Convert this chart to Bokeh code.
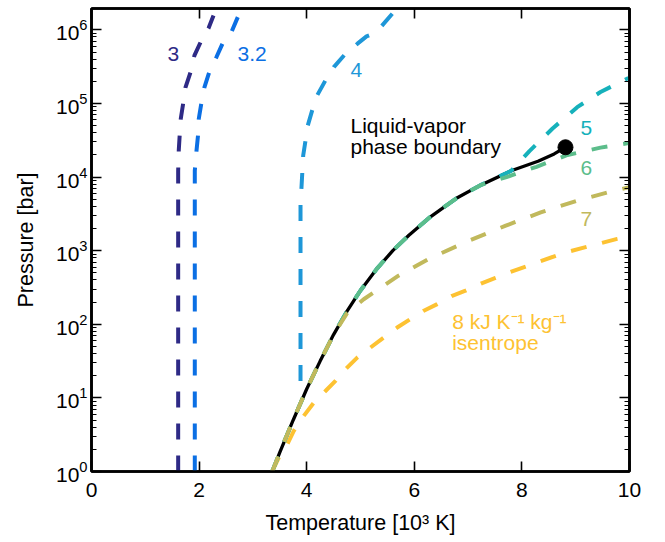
from bokeh.plotting import figure
from bokeh.models import LinearAxis, LogAxis, FixedTicker, Range1d, CustomJSTickFormatter
from bokeh.core.properties import value
from bokeh.embed import file_html
from bokeh.resources import INLINE

FONT = "Liberation Sans"

# ---- data (temperature in 10^3 K, pressure in bar) ----
x_ticks = [0, 2, 4, 6, 8, 10]
y_ticks = [1, 10, 100, 1e3, 1e4, 1e5, 1e6]
y_minor = [m * 10 ** k for k in range(0, 7) for m in range(2, 10)]

# liquid-vapor phase boundary
T_b = [3.359, 3.5, 3.75, 4.0, 4.25, 4.5, 4.75, 5.0, 5.31, 5.6, 5.9, 6.3, 6.8, 7.23, 7.8, 8.3, 8.6, 8.81]
P_b = [1, 1.82, 5.01, 13.2, 31.6, 72.4, 151, 288, 575, 1000, 1622, 2884, 5248, 7760, 12160, 16400, 20650, 25400]
T_crit = [8.81]
P_crit = [25400]

# isentropes (kJ K^-1 kg^-1)
T_s3 = [1.611, 1.611, 1.622, 1.641, 1.660, 1.704, 1.747, 1.840, 1.914, 2.026, 2.175, 2.268]
P_s3 = [1, 1.22e4, 2.30e4, 3.91e4, 6.25e4, 1.0e5, 1.65e5, 2.64e5, 4.50e5, 6.76e5, 1.05e6, 1.57e6]

T_s32 = [1.920, 1.920, 1.952, 1.983, 1.994, 2.045, 2.100, 2.199, 2.323, 2.448, 2.602, 2.719]
P_s32 = [1, 1.22e4, 2.30e4, 3.87e4, 6.19e4, 1.04e5, 1.67e5, 2.81e5, 4.27e5, 6.82e5, 9.33e5, 1.49e6]

T_s4 = [3.885, 3.885, 3.903, 3.935, 3.978, 4.020, 4.102, 4.195, 4.349, 4.504, 4.721, 4.944, 5.112, 5.186, 5.390, 5.595]
P_s4 = [17, 4.79e3, 7.19e3, 1.96e4, 3.14e4, 5.02e4, 8.04e4, 1.29e5, 2.06e5, 3.12e5, 4.74e5, 6.49e5, 8.15e5, 8.55e5, 1.12e6, 1.67e6]

T_s5 = [3.359, 3.5, 3.75, 4.0, 4.25, 4.5, 4.75, 5.0, 5.31, 5.6, 5.9, 6.3, 6.8, 7.23, 7.8, 8.14, 8.57, 9.028, 9.461, 9.981]
P_s5 = [1, 1.82, 5.01, 13.2, 31.6, 72.4, 151, 288, 575, 1000, 1622, 2884, 5248, 7760, 12160, 2.25e4, 4.57e4, 8.91e4, 1.43e5, 2.22e5]

T_s6 = [3.359, 3.5, 3.75, 4.0, 4.25, 4.5, 4.75, 5.0, 5.31, 5.6, 5.9, 6.3, 6.8, 7.23, 7.714, 8.271, 8.848, 9.461, 9.981]
P_s6 = [1, 1.82, 5.01, 13.2, 31.6, 72.4, 151, 288, 575, 1000, 1622, 2884, 5248, 7760, 10000, 13800, 19950, 25100, 29000]

T_s7 = [3.359, 3.5, 3.75, 4.0, 4.25, 4.5, 4.75, 5.06, 5.706, 6.3, 7.0, 7.7, 8.35, 9.03, 9.59, 9.98]
P_s7 = [1, 1.82, 5.01, 13.2, 31.6, 72.4, 141, 219, 457, 794, 1350, 2190, 3310, 4790, 6170, 7240]

T_s8 = [3.359, 3.481, 3.638, 3.760, 3.946, 4.132, 4.349, 4.535, 4.721, 4.939, 5.186, 5.433, 5.682, 5.929,
        6.177, 6.426, 6.704, 6.952, 7.262, 7.509, 7.788, 8.779, 9.771, 9.981]
P_s8 = [1, 1.54, 2.34, 3.56, 5.69, 8.63, 12.4, 17.0, 24.5, 35.3, 48.3, 66.1, 90.4, 118,
        153, 188, 244, 286, 363, 427, 513, 933, 1445, 1549]

colors = {
    "3": "#2e2a86",
    "3.2": "#0b6fe4",
    "4": "#1e97d8",
    "5": "#16b1bb",
    "6": "#5cbd8b",
    "7": "#c1b95c",
    "8": "#fdc232",
}

labels = ["3", "3.2", "4", "5", "6", "7"]
label_T = [1.413, 2.714, 4.814, 9.089, 9.089, 9.089]
label_P = [4.7e5, 4.7e5, 2.81e5, 4.64e4, 1.33e4, 2.68e3]

p = figure(width=665, height=542, x_range=Range1d(0, 10), y_range=Range1d(1, 1.95e6),
           y_axis_type="log", output_backend="svg", toolbar_location=None,
           min_border_left=91, min_border_right=36, min_border_top=8, min_border_bottom=71)

p.background_fill_color = "white"
p.border_fill_color = "white"
p.outline_line_color = "black"
p.outline_line_width = 2.6
p.xgrid.visible = False
p.ygrid.visible = False

def style_axis(ax, show_labels=True):
    ax.axis_line_color = "black"
    ax.axis_line_width = 2.6
    ax.major_tick_in = 10
    ax.major_tick_out = 0
    ax.minor_tick_in = 5
    ax.minor_tick_out = 0
    ax.major_tick_line_width = 1.6
    ax.minor_tick_line_width = 1.2
    ax.major_tick_line_color = "black"
    ax.minor_tick_line_color = "black"
    ax.major_label_text_font = FONT
    ax.major_label_text_color = "black"
    ax.axis_label_text_font = FONT
    ax.axis_label_text_font_style = "normal"
    ax.axis_label_text_color = "black"
    ax.axis_label_text_font_size = "21.5px"
    if show_labels:
        ax.major_label_text_font_size = "21px"
    else:
        ax.formatter = CustomJSTickFormatter(code="return ''")
        ax.major_label_text_font_size = "1px"
        ax.major_label_standoff = 0

xax = p.xaxis[0]
xax.ticker = FixedTicker(ticks=x_ticks, minor_ticks=[])
style_axis(xax)
xax.major_label_standoff = 11
xax.axis_label = "Temperature [10³ K]"
xax.axis_label_standoff = 11

yax = p.yaxis[0]
yax.ticker = FixedTicker(ticks=y_ticks, minor_ticks=y_minor)
style_axis(yax)
yax.major_label_standoff = 4
yax.axis_label = "Pressure [bar]"
yax.axis_label_standoff = 15

top = LinearAxis(ticker=FixedTicker(ticks=x_ticks, minor_ticks=[]))
style_axis(top, show_labels=False)
p.add_layout(top, "above")

right = LogAxis(ticker=FixedTicker(ticks=y_ticks, minor_ticks=y_minor))
style_axis(right, show_labels=False)
p.add_layout(right, "right")

DASH = "16 16"
LW = 4

p.line(T_b, P_b, line_color="black", line_width=3.3)

for T, P, key in [(T_s3, P_s3, "3"), (T_s32, P_s32, "3.2"), (T_s4, P_s4, "4"),
                  (T_s8, P_s8, "8"), (T_s5, P_s5, "5"), (T_s6, P_s6, "6"), (T_s7, P_s7, "7")]:
    p.line(T, P, line_color=colors[key], line_width=LW, line_dash=DASH)

p.scatter(T_crit, P_crit, size=15, color="black")

p.text(x=label_T, y=label_P, text=labels,
       text_color=[colors[k] for k in labels], text_font=value(FONT),
       text_font_size="21px", text_baseline="middle", text_align="left")

p.text(x=[4.814, 4.814], y=[5.02e4, 2.6e4], text=["Liquid-vapor", "phase boundary"],
       text_color="black", text_font=value(FONT), text_font_size="21px",
       text_baseline="middle", text_align="left")

p.text(x=[6.704, 6.704], y=[110, 56], text=["8 kJ K⁻¹ kg⁻¹", "isentrope"],
       text_color=colors["8"], text_font=value(FONT), text_font_size="21px",
       text_baseline="middle", text_align="left")

open("out.html", "w").write(file_html(p, INLINE))
